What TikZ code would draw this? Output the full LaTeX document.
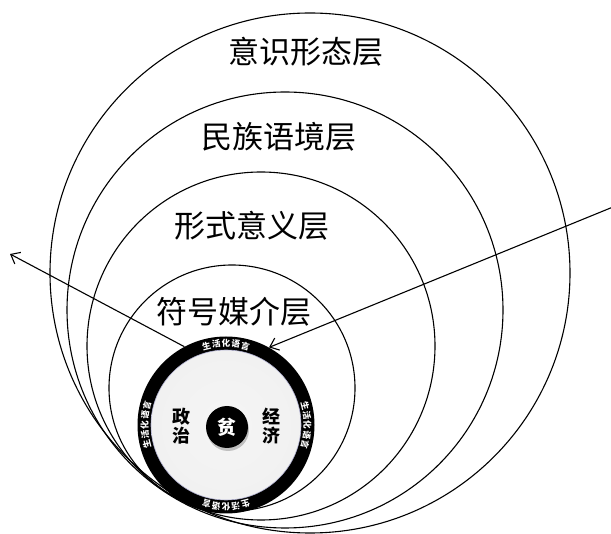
\documentclass[tikz,border=0pt]{standalone}
\usepackage{fontspec}
\setmainfont{Noto Sans CJK SC}
\newfontfamily\cjk{Noto Sans CJK SC}
\usetikzlibrary{arrows.meta,shadows,calc}
\begin{document}
\begin{tikzpicture}[x=1pt,y=-1pt,
  layer/.style={line width=1.1pt, draw=black},
  layertxt/.style={font=\cjk\fontsize{31}{31}\selectfont, inner sep=0pt},
  ringtxt/.style={font=\cjk\bfseries\fontsize{8.6}{8.6}\selectfont, text=white, inner sep=0pt},
  sidetxt/.style={font=\cjk\bfseries\fontsize{18}{19.5}\selectfont, align=center, inner sep=0pt},
  flow/.style={line width=1.1pt, -{Straight Barb[length=8pt,width=13pt,line width=1.1pt]}}
]
\useasboundingbox[fill=white] (0,0) rectangle (611,534);

% nested tangent circles
\draw[layer] (310,273) circle[radius=260pt];
\draw[layer] (285,310) circle[radius=218pt];
\draw[layer] (261,346) circle[radius=174pt];
\draw[layer] (232,388) circle[radius=123pt];

% layer labels
\node[layertxt] (l1) at (306,52) {意识形态层};
\node[layertxt] (l2) at (279,137) {民族语境层};
\node[layertxt] (l3) at (252,226) {形式意义层};
\node[layertxt] (l4) at (234,312) {符号媒介层};

% ring
\node[circle, fill=black, minimum size=177pt, inner sep=0pt] (ring) at (226,425) {};
\node[circle, minimum size=150pt, inner sep=0pt, inner color=white!96!black, outer color=gray!11,
      draw=blue!25!gray!50, line width=0.6pt] (disk) at (226,425) {};

% ring texts
\foreach \phi in {90,180,0,270}{
  \foreach \ch [count=\i from 0] in {生,活,化,语,言}{
    \pgfmathsetmacro{\ang}{\phi+(2-\i)*6.9}
    \path (ring.center) ++(\ang:81.5pt) node[ringtxt, rotate=\ang-90] {\ch};
  }
}

% center
\node[circle, fill=black, minimum size=42pt, inner sep=0pt,
      drop shadow={opacity=0.45, shadow xshift=1pt, shadow yshift=-3pt},
      text=white, font=\cjk\bfseries\fontsize{19}{19}\selectfont] (pin) at (227,427) {贫};
\node[sidetxt] (zz) at (181,426) {政\\治};
\node[sidetxt] (jj) at (271,426) {经\\济};

% arrows
\coordinate (ltip) at (10,254);
\coordinate (rstart) at (613,207);
\draw[flow] (ring.118) -- (ltip);
\draw[flow] (rstart) -- (ring.61);
\end{tikzpicture}
\end{document}
